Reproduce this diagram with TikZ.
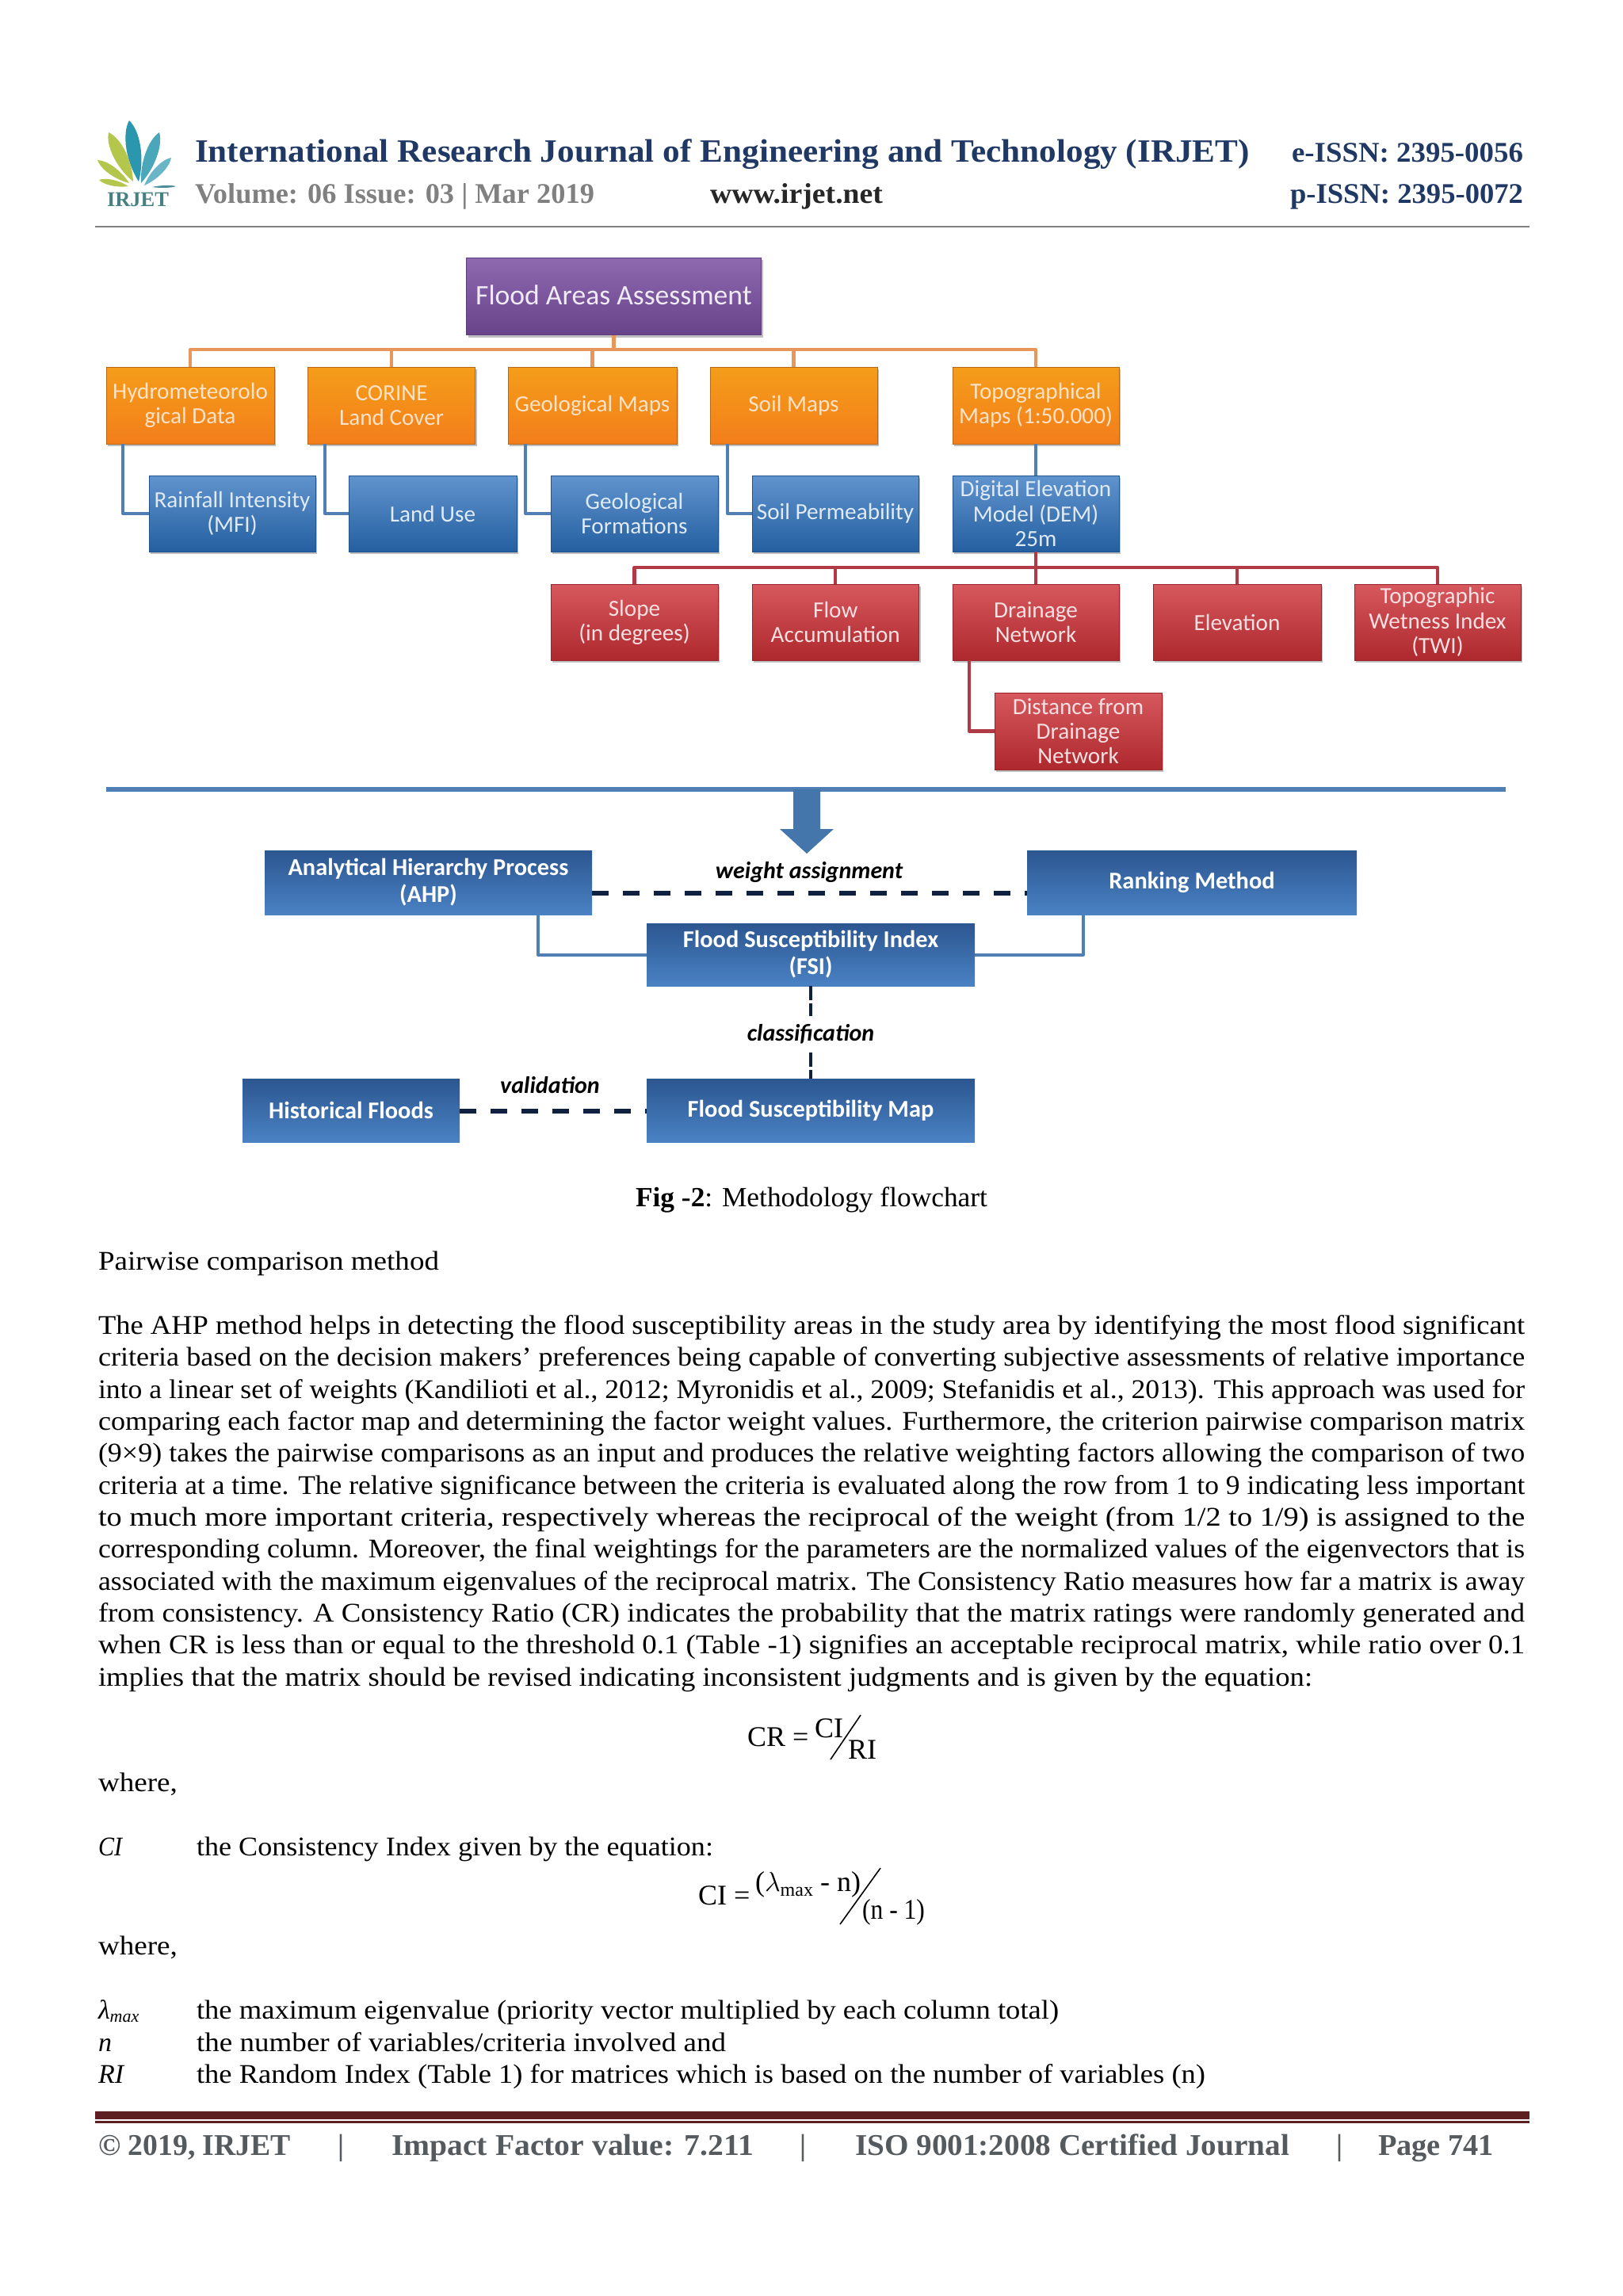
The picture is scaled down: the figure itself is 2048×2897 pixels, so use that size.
\documentclass[tikz,border=0pt]{standalone}
\usepackage{fontspec}
\usepackage{graphicx}
\usetikzlibrary{calc,shadows}
\setmainfont{Liberation Serif}
\newfontfamily\cb{Carlito}
\newcommand{\fs}[1]{\fontsize{#1}{#1}\selectfont}
\definecolor{navy}{HTML}{1F3864}
\definecolor{dashc}{HTML}{0F2040}
\definecolor{footc}{HTML}{555A5E}
\definecolor{maroon}{HTML}{5E1F23}
\definecolor{toppurple}{HTML}{7A4FA3}
\definecolor{orange1}{HTML}{F28C1E}
\definecolor{blue1}{HTML}{2B70BD}
\definecolor{red1}{HTML}{CC2F35}
\definecolor{dkt}{HTML}{2C5690}
\definecolor{dkb}{HTML}{4A82C4}
\definecolor{orange2}{HTML}{E8975A}
\definecolor{blue2}{HTML}{4F7FB5}
\definecolor{red2}{HTML}{B03A46}
\definecolor{petalt}{HTML}{2A97AE}
\definecolor{petalg}{HTML}{B4C64C}
\tikzset{
 boxbase/.style={inner sep=0pt,outer sep=0pt,align=center,font=\cb\fontsize{14.6}{15.6}\selectfont},
 shad/.style={drop shadow={shadow xshift=1pt,shadow yshift=-1.5pt,fill=black,opacity=.25}},
 topbox/.style={boxbase,shad,draw=toppurple!75!black,line width=.4pt,top color=toppurple!85!white,bottom color=toppurple!85!black,text=white!88!toppurple,font=\cb\fontsize{17.8}{19}\selectfont},
 orbox/.style={boxbase,shad,draw=orange1!75!black,line width=.4pt,top color=orange1!85!yellow,bottom color=orange1!90!red,text=orange1!25!white},
 blbox/.style={boxbase,shad,draw=blue1!75!black,line width=.4pt,top color=blue1!75!white,bottom color=blue1!85!black,text=blue1!15!white},
 rdbox/.style={boxbase,shad,draw=red1!75!black,line width=.4pt,top color=red1!80!white,bottom color=red1!85!black,text=red1!15!white},
 dkbox/.style={boxbase,top color=dkt,bottom color=dkb,text=white,font=\cb\bfseries\fontsize{15.2}{17}\selectfont},
 orline/.style={draw=orange2,line width=2.4pt,line join=round},
 blline/.style={draw=blue2,line width=2pt,line join=round},
 rdline/.style={draw=red2,line width=2.2pt,line join=round},
 dashh/.style={draw=dashc,line width=2.7pt,dash pattern=on 10.5pt off 9pt},
 dashv/.style={draw=dashc,line width=2pt,dash pattern=on 9pt off 2pt},
 lab/.style={inner sep=0pt,outer sep=0pt,text=black,font=\cb\bfseries\itshape\fontsize{15}{15}\selectfont},
 txt/.style={anchor=base west,inner sep=0pt,outer sep=0pt},
}
\newcommand{\bx}[7]{%
 \pgfmathsetmacro\bxx{(#3+#5)/2}\pgfmathsetmacro\bxy{(#4+#6)/2}%
 \pgfmathsetmacro\bxw{(#5-#3)*0.5}\pgfmathsetmacro\bxh{(#6-#4)*0.5}%
 \node[#1,minimum width=\bxw pt,minimum height=\bxh pt] (#2) at (\bxx,\bxy) {#7};}
\newcommand{\tl}[6]{\node[txt] (#1) at (#2,#3) {\resizebox{\dimexpr #4pt*1/2\relax}{\height}{#5#6}};}
\newcommand{\bl}[3]{\tl{#1}{124}{#2}{1800}{\fs{17}}{#3}}
\newcommand{\petal}[6]{\coordinate (pa) at (#1,#2);\coordinate (pb) at (#3,#4);
 \fill[#6] (pa) .. controls ($(pa)!.35!(pb)!#5pt!90:(pb)$) and ($(pa)!.8!(pb)!#5pt!90:(pb)$) .. (pb)
 .. controls ($(pa)!.8!(pb)!#5pt!-90:(pb)$) and ($(pa)!.35!(pb)!#5pt!-90:(pb)$) .. (pa);}
\begin{document}
\begin{tikzpicture}[x=0.5pt,y=-0.5pt]
\useasboundingbox (0,0) rectangle (2048,2897);
% logo
\petal{175}{229}{163}{152}{6}{petalt}
\petal{178}{231}{201}{167}{5}{petalt!85!white}
\petal{182}{234}{216}{199}{3.5}{petalt!70!white}
\petal{192}{236}{222}{235}{1}{petalt!60!gray}
\petal{168}{229}{137}{167}{5.5}{petalg}
\petal{163}{231}{123}{202}{3.5}{petalg}
\petal{162}{235}{125}{227}{2.5}{petalg}
\node[inner sep=0pt,text=teal!45!gray] (irjet) at (174,252) {\resizebox{39pt}{!}{\fs{14}\bfseries IRJET}};
% header
\tl{title}{246}{204}{1331}{\fs{20.5}\bfseries\color{navy}}{International Research Journal of Engineering and Technology (IRJET)}
\tl{vol}{246}{256}{504}{\fs{18}\bfseries\color{gray}}{Volume: 06 Issue: 03 | Mar 2019}
\tl{www}{896}{256}{218}{\fs{18}\bfseries\color{black!85}}{www.irjet.net}
\tl{eissn}{1630}{204}{292}{\fs{18}\bfseries\color{navy}}{e-ISSN: 2395-0056}
\tl{pissn}{1628}{256}{294}{\fs{18}\bfseries\color{navy}}{p-ISSN: 2395-0072}
\draw[gray,line width=1.2pt] (120,286) coordinate (hla) -- (1930,286) coordinate (hlb);
% boxes
\bx{topbox}{top}{588.5}{325}{960.5}{422.5}{\raisebox{1.5pt}{Flood Areas Assessment}}
\bx{orbox}{hydro}{134}{463}{346}{560}{Hydrometeorolo\\gical Data}
\bx{orbox}{corine}{388.5}{463}{599.5}{560}{CORINE\\Land Cover}
\bx{orbox}{geomaps}{641}{463}{854}{560}{Geological Maps}
\bx{orbox}{soil}{896}{463}{1107}{560}{Soil Maps}
\bx{orbox}{topo}{1202}{463}{1412}{560}{Topographical\\Maps (1:50.000)}
\bx{blbox}{rain}{188}{600}{398}{696}{Rainfall Intensity\\(MFI)}
\bx{blbox}{landuse}{440}{600}{652}{696}{Land Use}
\bx{blbox}{geoform}{695}{600}{906}{696}{Geological\\Formations}
\bx{blbox}{perm}{949}{600}{1159}{696}{Soil Permeability}
\bx{blbox}{dem}{1202}{600}{1412}{696}{Digital Elevation\\Model (DEM)\\25m}
\bx{rdbox}{slope}{695}{737}{906}{833}{Slope\\(in degrees)}
\bx{rdbox}{flow}{949}{737}{1159.5}{833}{Flow\\Accumulation}
\bx{rdbox}{drain}{1202}{737}{1412}{833}{Drainage\\Network}
\bx{rdbox}{elev}{1455}{737}{1667}{833}{Elevation}
\bx{rdbox}{twi}{1709}{737}{1919}{833}{Topographic\\Wetness Index\\(TWI)}
\bx{rdbox}{dist}{1255}{874}{1466}{971}{Distance from\\Drainage\\Network}
% connectors
\coordinate (obus) at (0,441);
\coordinate (rbus) at (0,716);
\draw[orline] (top.south) -- (top.south |- obus);
\draw[orline] (hydro.north) -- (hydro.north |- obus) -- (topo.north |- obus) -- (topo.north);
\draw[orline] (corine.north) -- (corine.north |- obus);
\draw[orline] (geomaps.north) -- (geomaps.north |- obus);
\draw[orline] (soil.north) -- (soil.north |- obus);
\draw[blline] ([xshift=10.5pt]hydro.south west) |- (rain.west);
\draw[blline] ([xshift=10.5pt]corine.south west) |- (landuse.west);
\draw[blline] ([xshift=11pt]geomaps.south west) |- (geoform.west);
\draw[blline] ([xshift=11pt]soil.south west) |- (perm.west);
\draw[blline] (topo.south) -- (dem.north);
\draw[rdline] (dem.south) -- (drain.north);
\draw[rdline] (slope.north) -- (slope.north |- rbus) -- (twi.north |- rbus) -- (twi.north);
\draw[rdline] (flow.north) -- (flow.north |- rbus);
\draw[rdline] (elev.north) -- (elev.north |- rbus);
\draw[rdline] ([xshift=10.5pt]drain.south west) |- (dist.west);
% divider + block arrow
\coordinate (dl) at (134,996);
\coordinate (dr) at (1900,996);
\draw[blue2,line width=2.6pt] (dl) -- (dr);
\fill[blue1!70!gray] (1001,996) -- (1035,996) -- (1035,1046) -- (1052,1046) -- (1018,1077) -- (984,1046) -- (1001,1046) -- cycle;
% lower flow
\bx{dkbox}{ahp}{334}{1073}{747}{1154}{Analytical Hierarchy Process\\(AHP)}
\bx{dkbox}{rank}{1296}{1073}{1712}{1154}{Ranking Method}
\bx{dkbox}{fsi}{816}{1165}{1230}{1244}{Flood Susceptibility Index\\(FSI)}
\bx{dkbox}{map}{816}{1361}{1230}{1441}{Flood Susceptibility Map}
\bx{dkbox}{hist}{306}{1361}{580}{1441}{Historical Floods}
\draw[blline] ([xshift=-34pt]ahp.south east) |- (fsi.west);
\draw[blline] ([xshift=35.5pt]rank.south west) |- (fsi.east);
\draw[dashh] (ahp.east |- 0,1127) -- (rank.west |- 0,1127);
\draw[dashh] (hist.east |- 0,1402) -- (map.west |- 0,1402);
\node[lab] (wa) at (1021,1100) {weight assignment};
\node[lab,minimum height=23pt] (cl) at (1023,1305) {classification};
\node[lab] (va) at (694,1369) {validation};
\draw[dashv] (fsi.south) -- (cl.north);
\draw[dashv] (cl.south) -- (map.north);
% caption
\tl{fig}{802}{1522}{444}{\fs{17.5}}{\textbf{Fig -2}: Methodology flowchart}
% body
\tl{pw}{124}{1602}{430}{\fs{17}}{Pairwise comparison method}
\bl{a1}{1683}{The AHP method helps in detecting the flood susceptibility areas in the study area by identifying the most flood significant}
\bl{a2}{1723}{criteria based on the decision makers’ preferences being capable of converting subjective assessments of relative importance}
\bl{a3}{1764}{into a linear set of weights (Kandilioti et al., 2012; Myronidis et al., 2009; Stefanidis et al., 2013). This approach was used for}
\bl{a4}{1804}{comparing each factor map and determining the factor weight values. Furthermore, the criterion pairwise comparison matrix}
\bl{a5}{1844}{(9×9) takes the pairwise comparisons as an input and produces the relative weighting factors allowing the comparison of two}
\bl{a6}{1885}{criteria at a time. The relative significance between the criteria is evaluated along the row from 1 to 9 indicating less important}
\bl{a7}{1925}{to much more important criteria, respectively whereas the reciprocal of the weight (from 1/2 to 1/9) is assigned to the}
\bl{a8}{1965}{corresponding column. Moreover, the final weightings for the parameters are the normalized values of the eigenvectors that is}
\bl{a9}{2006}{associated with the maximum eigenvalues of the reciprocal matrix. The Consistency Ratio measures how far a matrix is away}
\bl{a10}{2046}{from consistency. A Consistency Ratio (CR) indicates the probability that the matrix ratings were randomly generated and}
\bl{a11}{2086}{when CR is less than or equal to the threshold 0.1 (Table -1) signifies an acceptable reciprocal matrix, while ratio over 0.1}
\tl{a12}{124}{2127}{1532}{\fs{17}}{implies that the matrix should be revised indicating inconsistent judgments and is given by the equation:}
% equations
\node[txt] (crl) at (943,2203) {\fs{18}CR =};
\node[txt] (crn) at (1028,2192) {\fs{18}CI};
\node[txt] (crd) at (1070,2219) {\fs{18}RI};
\draw[black,line width=.8pt] (1086,2164) coordinate (cs1) -- (1048,2220) coordinate (cs2);
\tl{wh1}{124}{2260}{100}{\fs{17}}{where,}
\tl{cil}{124}{2341}{30}{\fs{17}\itshape}{CI}
\tl{cid}{248}{2341}{652}{\fs{17}}{the Consistency Index given by the equation:}
\node[txt] (cie) at (881,2403) {\fs{18}CI =};
\node[txt] (cin) at (953,2386) {\fs{18}($\lambda$\raisebox{-3pt}{\fs{12}max} - n)};
\tl{cim}{1088}{2421}{79}{\fs{18}}{(n - 1)}
\draw[black,line width=.8pt] (1111,2357) coordinate (cs3) -- (1060,2428) coordinate (cs4);
\tl{wh2}{124}{2466}{100}{\fs{17}}{where,}
\node[txt] (lm) at (124,2547) {\fs{17}\itshape λ\raisebox{-2pt}{\fs{11}max}};
\tl{ld}{248}{2547}{1088}{\fs{17}}{the maximum eigenvalue (priority vector multiplied by each column total)}
\node[txt] (nl) at (124,2588) {\fs{17}\itshape n};
\tl{nd}{248}{2588}{668}{\fs{17}}{the number of variables/criteria involved and}
\node[txt] (ril) at (124,2628) {\fs{17}\itshape RI};
\tl{rid}{248}{2628}{1273}{\fs{17}}{the Random Index (Table 1) for matrices which is based on the number of variables (n)}
% footer
\fill[maroon] (120,2664) rectangle (1930,2674);
\fill[maroon] (120,2676) rectangle (1930,2679);
\tl{f1}{124}{2719}{243}{\fs{19}\bfseries\color{footc}}{© 2019, IRJET}
\tl{f2}{426}{2719}{8}{\fs{19}\bfseries\color{footc}}{|}
\tl{f3}{494}{2719}{457}{\fs{19}\bfseries\color{footc}}{Impact Factor value: 7.211}
\tl{f4}{1009}{2719}{8}{\fs{19}\bfseries\color{footc}}{|}
\tl{f5}{1079}{2719}{548}{\fs{19}\bfseries\color{footc}}{ISO 9001:2008 Certified Journal}
\tl{f6}{1686}{2719}{8}{\fs{19}\bfseries\color{footc}}{|}
\tl{f7}{1739}{2719}{146}{\fs{19}\bfseries\color{footc}}{Page 741}
\end{tikzpicture}
\end{document}
